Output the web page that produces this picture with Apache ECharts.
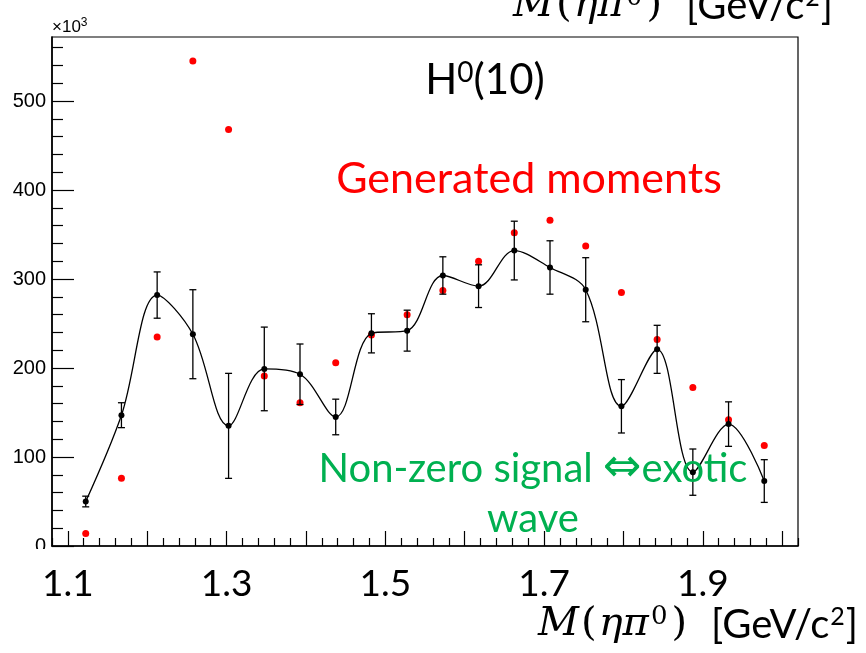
<!DOCTYPE html>
<html>
<head>
<meta charset="utf-8">
<script src="https://cdn.jsdelivr.net/npm/echarts@6/dist/echarts.min.js"></script>
<style>html,body{margin:0;padding:0;background:#fff;}#c{width:866px;height:653px;}</style>
</head>
<body>
<div id="c"></div>
<script>
// ---- data (values in units of 10^3) ----
const massCenters = [1.1225,1.1675,1.2125,1.2575,1.3025,1.3475,1.3925,1.4375,1.4825,1.5275,1.5725,1.6175,1.6625,1.7075,1.7525,1.7975,1.8425,1.8875,1.9325,1.9775];
const fittedMoments = [50,147,282,238,135,199,193,145,239,242,304,292,332,313,288,157,221,83,137,73];
const fittedErrors  = [6,14,26,50,59,47,34,20,22,23,21,24,33,30,36,30,27,26,25,24];
const generatedMoments = [14,76,235,545,468,191,161,206,237,260,287,320,352,366,337,285,232,178,142,113];
const xMajorTicks = [1.1,1.2,1.3,1.4,1.5,1.6,1.7,1.8,1.9,2.0];
const xTickLabels = [1.1,1.3,1.5,1.7,1.9];
const yMajorTicks = [0,100,200,300,400,500];

const xMinor = [];
for (let i = 0; i <= 47; i++) { const v = +(1.08 + i*0.02).toFixed(2); if (Math.abs(v*10 - Math.round(v*10)) > 1e-6) xMinor.push(v); }
const yMinor = [];
for (let v = 20; v < 572; v += 20) if (v % 100 !== 0) yMinor.push(v);

const fitted = massCenters.map((x,i)=>[x,fittedMoments[i]]);
const generated = massCenters.map((x,i)=>[x,generatedMoments[i]]);
const errData = massCenters.map((x,i)=>[x,fittedMoments[i]-fittedErrors[i],fittedMoments[i]+fittedErrors[i]]);

const chart = echarts.init(document.getElementById('c'), null, {renderer:'canvas'});
const sans = 'Lato';
const titleRich = {
  m:{fontFamily:'DejaVu Serif',fontStyle:'italic',fontSize:40,color:'#000'},
  p:{fontFamily:'DejaVu Serif',fontSize:40,color:'#000',padding:[0,2,0,2]},
  sup:{fontFamily:'DejaVu Serif',fontSize:26,color:'#000',verticalAlign:'top',padding:[0,2,16,2]},
  s:{fontFamily:sans,fontSize:40,color:'#000'},
  sp:{fontFamily:sans,fontSize:40,color:'#000',width:22},
  sup2:{fontFamily:sans,fontSize:25,color:'#000',verticalAlign:'top',padding:[0,1,16,1]}
};
const titleText = '{m|M}{p|(}{m|ηπ}{sup|0}{p|)}{sp| }{s|[GeV/c}{sup2|2}{s|]}';

chart.setOption({
  backgroundColor:'#fff',
  animation:false,
  grid:{left:52,right:68,top:37,bottom:107,show:true,borderColor:'#000',borderWidth:1.2,backgroundColor:'transparent',
    containLabel:false,outerBoundsMode:'none'},
  xAxis:[{
    type:'value',min:1.08,max:2.02,
    axisLine:{lineStyle:{color:'#000',width:1.6}},
    axisTick:{inside:true,length:15,customValues:xMajorTicks,lineStyle:{color:'#000',width:1.2}},
    axisLabel:{customValues:xTickLabels,formatter:v=>v.toFixed(1),fontFamily:sans,fontSize:37,color:'#000',margin:20},
    splitLine:{show:false}
  },{
    type:'value',min:1.08,max:2.02,position:'bottom',
    axisLine:{show:false},
    axisTick:{inside:true,length:8,customValues:xMinor,lineStyle:{color:'#000',width:1.2}},
    axisLabel:{show:false},splitLine:{show:false}
  }],
  yAxis:[{
    type:'value',min:0,max:572,
    axisLine:{show:true,lineStyle:{color:'#000',width:1.6}},
    axisTick:{show:true,inside:true,length:22,customValues:yMajorTicks,lineStyle:{color:'#000',width:1.2}},
    axisLabel:{customValues:yMajorTicks,fontFamily:'Liberation Sans',fontSize:20,color:'#000',margin:6},
    splitLine:{show:false},
    name:'×10{e|3}',nameLocation:'end',nameGap:-1,
    nameTextStyle:{fontFamily:'Liberation Sans',fontSize:17,color:'#000',align:'left',verticalAlign:'bottom',padding:[0,0,0,0],
      rich:{e:{fontFamily:'Liberation Sans',fontSize:12,verticalAlign:'top',padding:[0,0,9,0]}}}
  },{
    type:'value',min:0,max:572,position:'left',
    axisLine:{show:false},
    axisTick:{show:true,inside:true,length:11,customValues:yMinor,lineStyle:{color:'#000',width:1.2}},
    axisLabel:{show:false},splitLine:{show:false}
  }],
  graphic:[
    {type:'rect',left:0,top:549,shape:{width:50,height:20},style:{fill:'#fff'},z:100},
    {type:'text',x:485,y:80,style:{text:'H{s|0}(10)',textAlign:'center',textVerticalAlign:'middle',font:'42px Lato',fill:'#000',
      rich:{s:{fontFamily:sans,fontSize:28,verticalAlign:'top',padding:[0,0,15,0]}}},z:50},
    {type:'text',x:529,y:179,style:{text:'Generated moments',textAlign:'center',textVerticalAlign:'middle',font:'43px Lato',fill:'#ff0000'},z:50},
    {type:'text',x:533,y:494,style:{text:'Non-zero signal {a|⇔}exotic\nwave',textAlign:'center',textVerticalAlign:'middle',font:'40px Lato',lineHeight:50,fill:'#00b050',
      rich:{a:{fontFamily:'DejaVu Sans',fontSize:46,color:'#00b050'}}},z:50},
    {type:'text',x:833,y:27,style:{text:titleText,textAlign:'right',textVerticalAlign:'bottom',rich:titleRich},z:50},
    {type:'text',x:858,y:646,style:{text:titleText,textAlign:'right',textVerticalAlign:'bottom',rich:titleRich},z:50}
  ],
  series:[
    {type:'scatter',name:'Generated',data:generated,symbol:'circle',symbolSize:7,itemStyle:{color:'#ff0000',opacity:1},z:2},
    {type:'custom',name:'errors',data:errData,z:3,
      renderItem:function(params,api){
        const x=api.value(0), lo=api.value(1), hi=api.value(2);
        const a=api.coord([x,lo]), b=api.coord([x,hi]);
        const st={stroke:'#000',lineWidth:1.3};
        return {type:'group',children:[
          {type:'line',shape:{x1:a[0],y1:a[1],x2:b[0],y2:b[1]},style:st},
          {type:'line',shape:{x1:a[0]-3.5,y1:a[1],x2:a[0]+3.5,y2:a[1]},style:st},
          {type:'line',shape:{x1:b[0]-3.5,y1:b[1],x2:b[0]+3.5,y2:b[1]},style:st}
        ]};
      }},
    {type:'line',name:'Fit',data:fitted,smooth:0.35,symbol:'circle',symbolSize:6,showSymbol:true,
      itemStyle:{color:'#000'},lineStyle:{color:'#000',width:1.3},z:4}
  ]
});
</script>
</body>
</html>
